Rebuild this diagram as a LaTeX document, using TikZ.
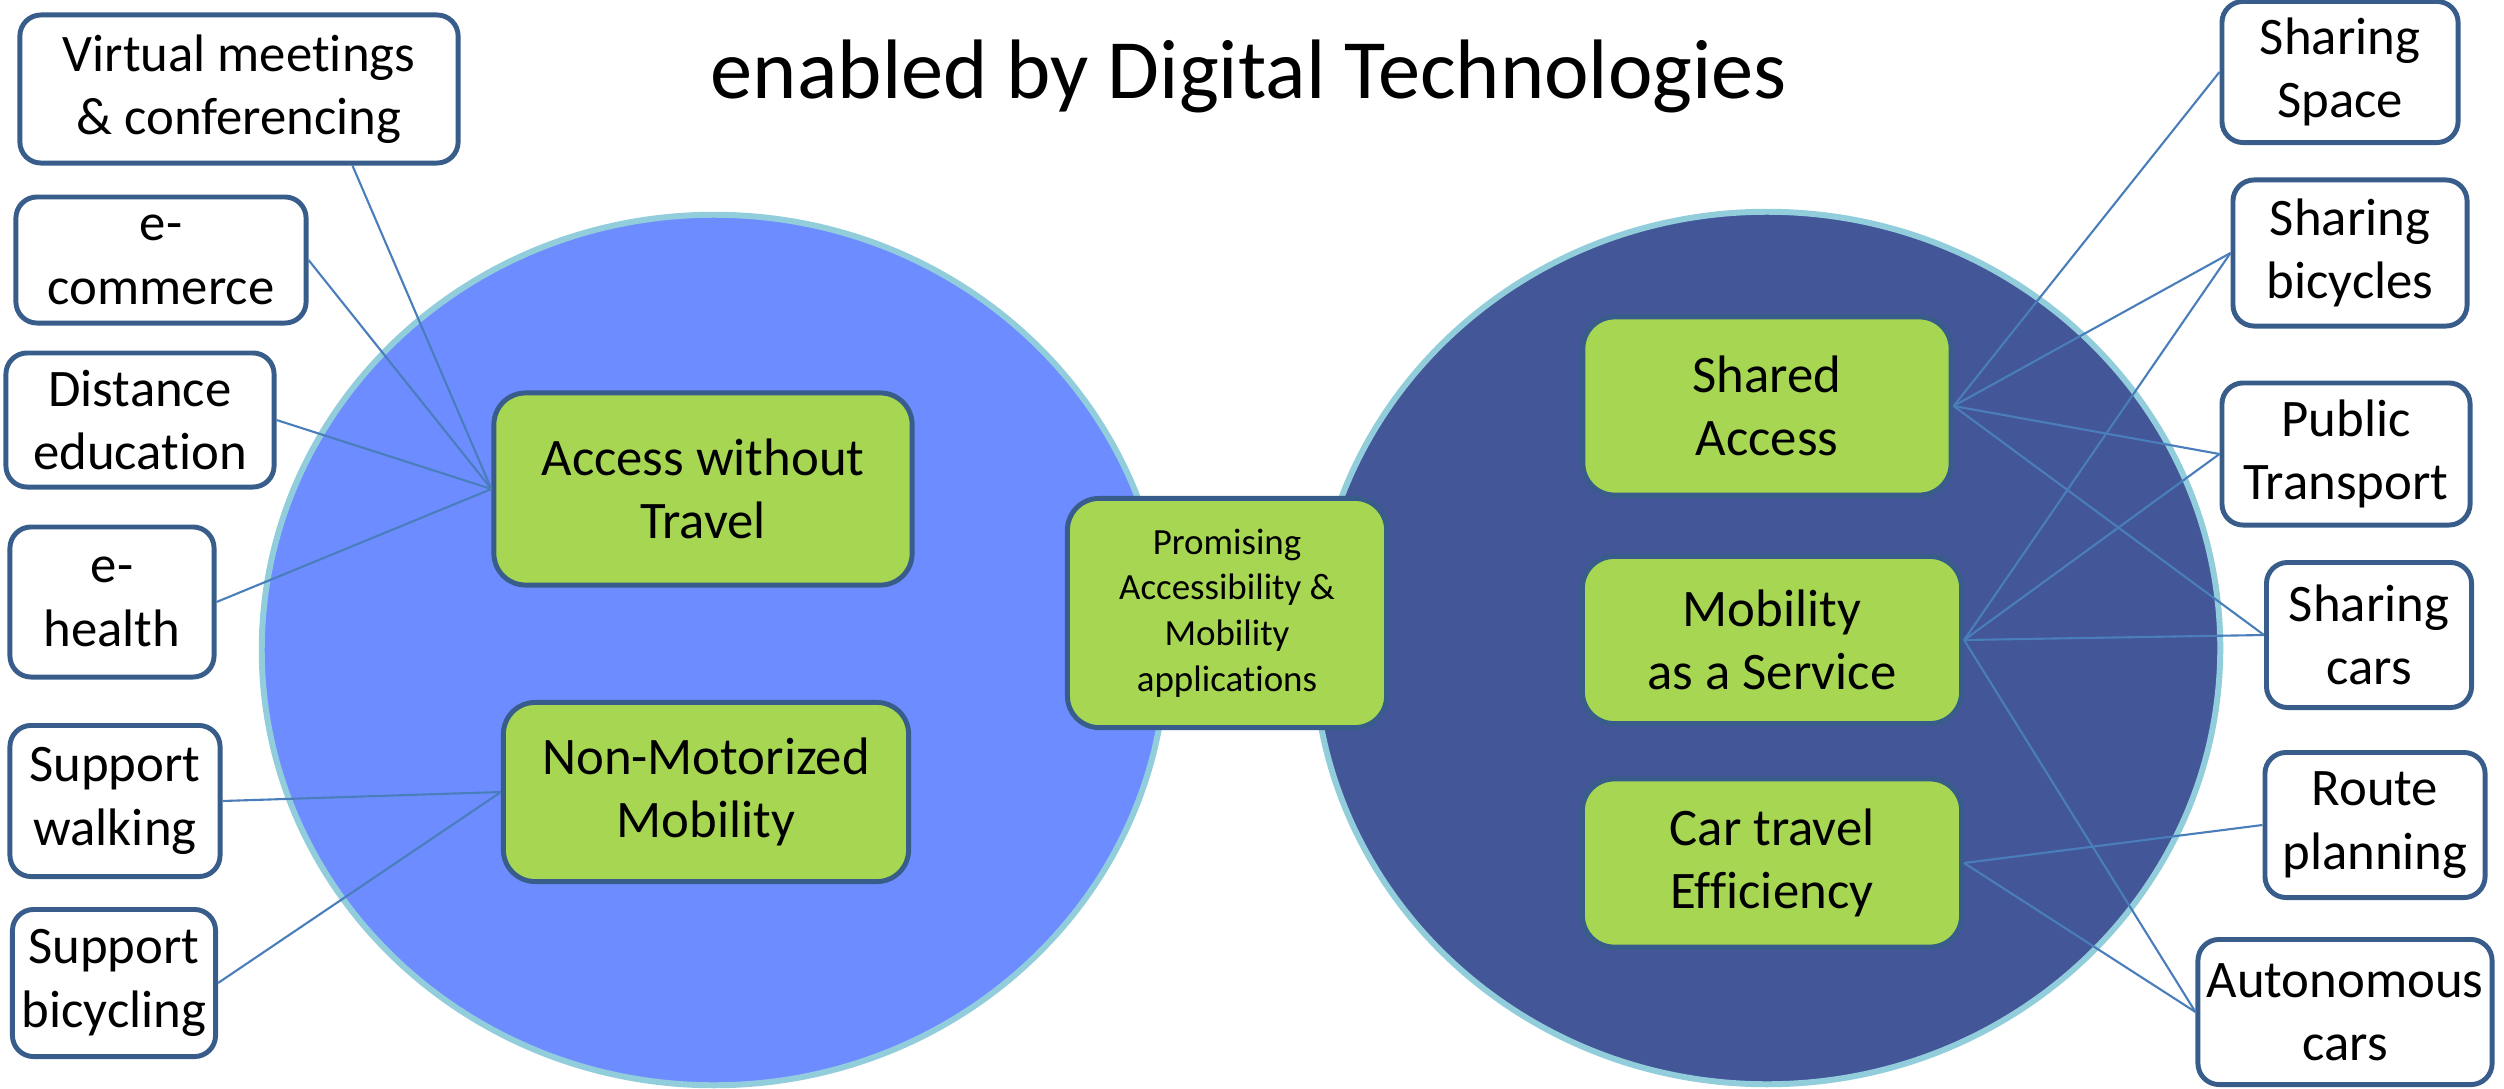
\documentclass[tikz,border=0pt]{standalone}
\usepackage{fontspec}
\setmainfont{Carlito}[Ligatures=NoCommon]
\usetikzlibrary{positioning}
\definecolor{leftblue}{HTML}{6C8CFF}
\definecolor{rightblue}{HTML}{435697}
\definecolor{rimblue}{HTML}{92CDDC}
\definecolor{edgeblue}{HTML}{385D8A}
\definecolor{appgreen}{HTML}{A6D652}
\definecolor{linkblue}{HTML}{4A7EBB}

\begin{document}
\begin{tikzpicture}[x=0.01cm,y=-0.01cm]
\tikzstyle{leaf}=[draw=edgeblue,line width=1.4pt,fill=white,rounded corners=6pt,align=center,inner sep=0pt,font=\fontsize{15}{18}\selectfont]
\tikzstyle{hub}=[draw=edgeblue,line width=1.4pt,fill=appgreen,rounded corners=9pt,align=center,inner sep=0pt,font=\fontsize{15}{18}\selectfont]
\tikzstyle{link}=[draw=linkblue,line width=0.6pt]
\tikzstyle{rim}=[draw=rimblue,line width=1.7pt]

\useasboundingbox (0,0) rectangle (2504,1088);

%title
\node[anchor=base,font=\fontsize{24}{29}\selectfont] (title) at (1249,99) {enabled by Digital Technologies};

%the two circles
\path[rim,fill=leftblue] (714,650) ellipse [x radius=4.52cm,y radius=4.35cm];
\path[rim,fill=rightblue] (1767,648) ellipse [x radius=4.53cm,y radius=4.36cm];

%left leaves
\node[leaf,minimum width=4.38cm,minimum height=1.48cm] (virt) at (239,89) {Virtual meetings\\\& conferencing};
\node[leaf,minimum width=2.90cm,minimum height=1.26cm] (ecom) at (161,260) {e-\\commerce};
\node[leaf,minimum width=2.68cm,minimum height=1.34cm] (dist) at (140,420) {Distance\\education};
\node[leaf,minimum width=2.04cm,minimum height=1.50cm] (ehea) at (112,602) {e-\\health};
\node[leaf,minimum width=2.10cm,minimum height=1.51cm] (walk) at (115,801) {Support\\walking};
\node[leaf,minimum width=2.03cm,minimum height=1.47cm] (bike) at (114,983) {Support\\bicycling};

%green hubs
\node[hub,minimum width=4.18cm,minimum height=1.92cm] (awt) at (703,489) {Access without\\Travel};
\node[hub,minimum width=4.05cm,minimum height=1.79cm] (nmm) at (706,792) {Non-Motorized\\Mobility};
\node[hub,minimum width=3.19cm,minimum height=2.29cm,font=\fontsize{10.5}{13}\selectfont] (prom) at (1227,613) {Promising\\Accessibility \&\\Mobility\\applications};
\node[hub,minimum width=3.68cm,minimum height=1.78cm] (shar) at (1767,406) {Shared\\Access};
\node[hub,minimum width=3.79cm,minimum height=1.67cm] (maas) at (1772,640) {Mobility\\as a Service};
\node[hub,minimum width=3.79cm,minimum height=1.68cm] (cte) at (1772,863) {Car travel\\Efficiency};

%right leaves
\node[leaf,minimum width=2.36cm,minimum height=1.41cm] (space) at (2340,72) {Sharing\\Space};
\node[leaf,minimum width=2.34cm,minimum height=1.46cm] (bicy) at (2350,253) {Sharing\\bicycles};
\node[leaf,minimum width=2.48cm,minimum height=1.42cm] (pt) at (2346,454) {Public\\Transport};
\node[leaf,minimum width=2.05cm,minimum height=1.45cm] (cars) at (2369,635) {Sharing\\cars};
\node[leaf,minimum width=2.20cm,minimum height=1.45cm] (route) at (2375,825) {Route\\planning};
\node[leaf,minimum width=2.94cm,minimum height=1.45cm] (autocar) at (2345,1012) {Autonomous\\cars};

%links on the left
\draw[link] (virt.-34) -- (awt.west);
\draw[link] (ecom.east) -- (awt.west);
\draw[link] (dist.east) -- (awt.west);
\draw[link] (ehea.east) -- (awt.west);
\draw[link] (walk.east) -- (nmm.west);
\draw[link] (bike.east) -- (nmm.west);

%links on the right
\draw[link] (shar.east) -- (space.west);
\draw[link] (shar.east) -- (bicy.west);
\draw[link] (shar.east) -- (pt.west);
\draw[link] (shar.east) -- (cars.west);
\draw[link] (maas.east) -- (bicy.west);
\draw[link] (maas.east) -- (pt.west);
\draw[link] (maas.east) -- (cars.west);
\draw[link] (maas.east) -- (autocar.west);
\draw[link] (cte.east) -- (route.west);
\draw[link] (cte.east) -- (autocar.west);
\end{tikzpicture}
\end{document}
